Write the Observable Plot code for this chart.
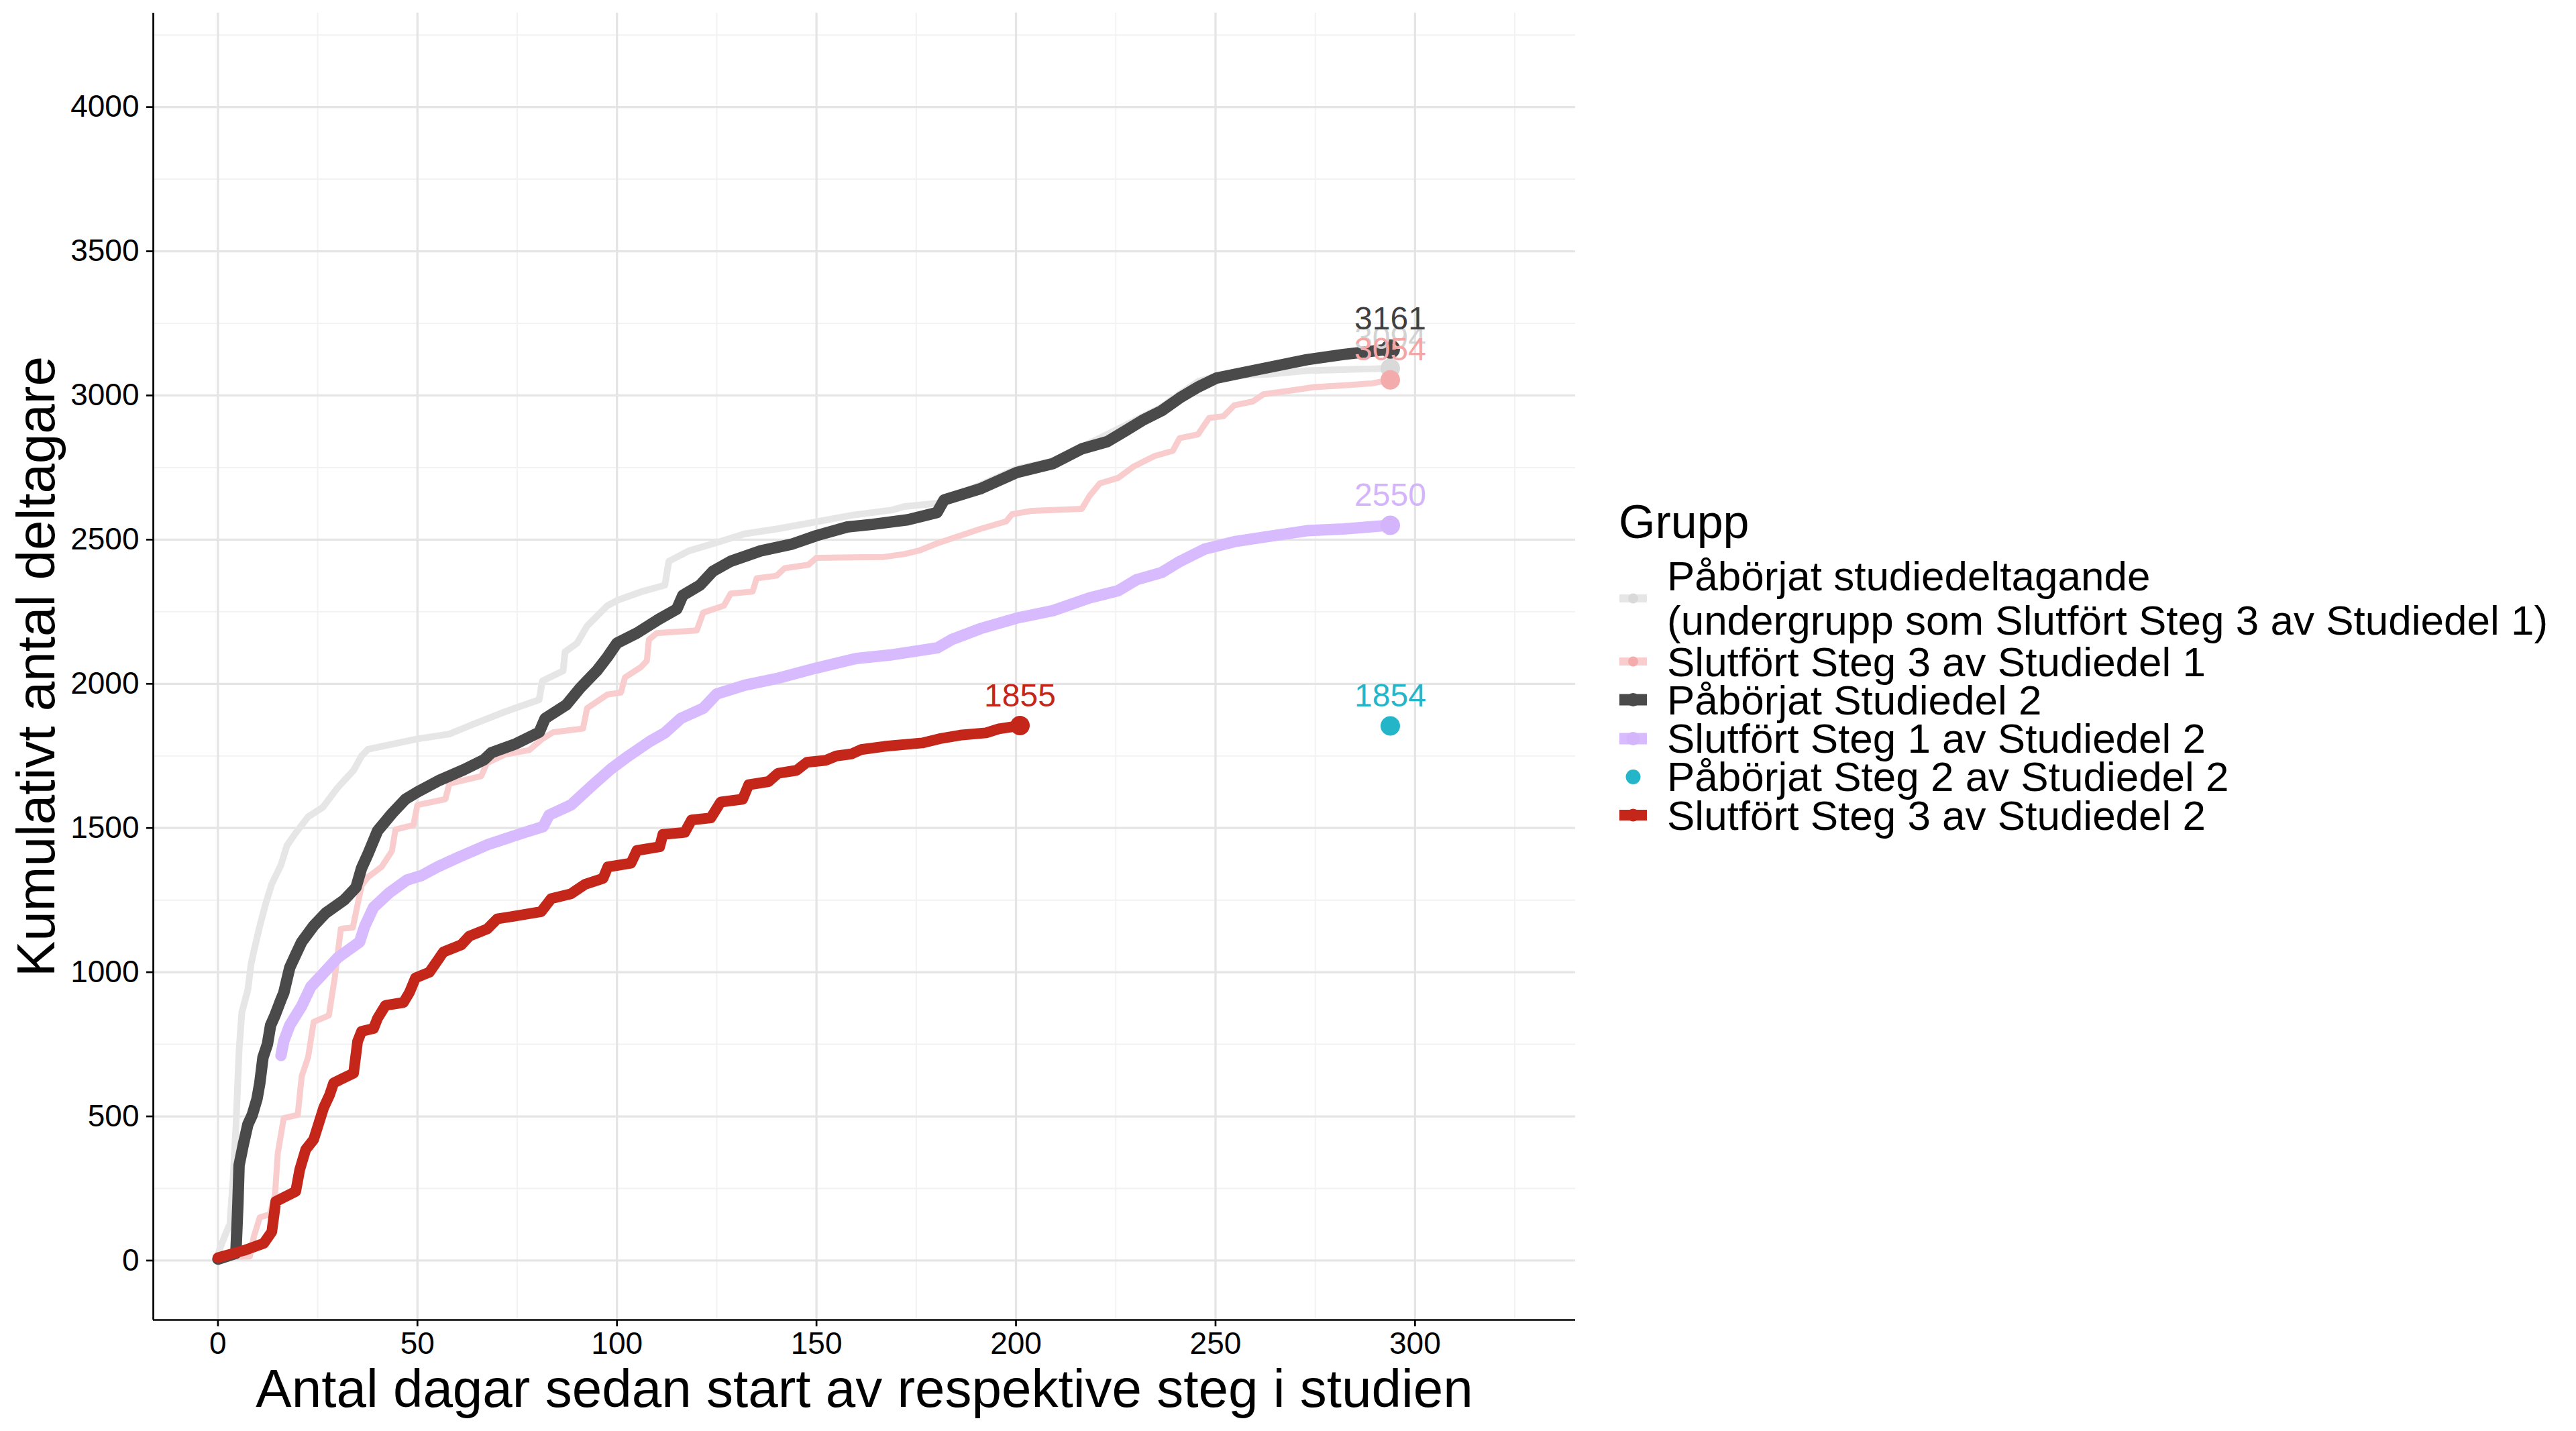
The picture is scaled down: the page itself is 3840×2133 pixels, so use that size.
<!DOCTYPE html>
<html>
<head>
<meta charset="utf-8">
<script src="https://cdn.jsdelivr.net/npm/d3@7"></script>
<script src="https://cdn.jsdelivr.net/npm/@observablehq/plot@0.6"></script>
<style>
html, body { margin: 0; padding: 0; background: #fff; }
#wrap { position: relative; width: 3840px; height: 2133px; overflow: hidden; background: #fff;
  font-family: "Liberation Sans", Arial, Helvetica, sans-serif; color: #000; }
#chart { position: absolute; left: 0; top: 0; }
#legendTitle { position: absolute; left: 2413px; top: 742.7px; font-size: 70px; line-height: 70px; white-space: nowrap; }
#legendRows { position: absolute; left: 2413px; top: 825.5px; }
.row { display: flex; align-items: center; height: 57.3px; }
.row.two { height: 132px; }
.row svg { margin-left: 1px; flex: none; }
.row .lab { margin-left: 30px; font-size: 62px; line-height: 57.3px; white-space: nowrap; }
.row.two .lab { line-height: 66px; }
</style>
</head>
<body>
<div id="wrap">
  <div id="chart"></div>
  <div id="legendTitle">Grupp</div>
  <div id="legendRows"></div>
</div>
<script>
// ---- Data ----
const groups = [
  "Påbörjat studiedeltagande\n(undergrupp som Slutfört Steg 3 av Studiedel 1)",
  "Slutfört Steg 3 av Studiedel 1",
  "Påbörjat Studiedel 2",
  "Slutfört Steg 1 av Studiedel 2",
  "Påbörjat Steg 2 av Studiedel 2",
  "Slutfört Steg 3 av Studiedel 2"
];

// [day, cumulative count]
const paborjatStudiedeltagande = [
  [0,22],[1.5,78],[3,128],[3.8,283],[4.5,461],[5.3,728],[6,861],[7.5,939],[8.3,1028],[9,1072],
  [10.5,1161],[12,1239],[13.5,1306],[15.8,1372],[17.3,1439],[19.5,1483],[22.6,1539],[26.3,1572],
  [30,1640],[34,1700],[36,1750],[37.6,1773],[50,1809],[58,1826],[63.3,1856],[71.9,1903],[80.5,1945],
  [81.3,2010],[86.5,2045],[87,2111],[90,2141],[92.5,2200],[97.6,2271],[100,2289],[106,2319],[112,2342],
  [113,2425],[118,2461],[125,2490],[132,2520],[140.5,2538],[150,2562],[159,2585],[169,2603],[172,2615],
  [180.2,2626],[191,2689],[200,2745],[210,2775],[217,2825],[227.5,2897],[236.5,2960],[241,3005],
  [245.6,3048],[250.2,3067],[263,3073],[272.9,3086],[293.8,3094]
];

const slutfortSteg3Del1 = [
  [0,10],[8,15],[9,83],[10.5,150],[13,160],[14.3,228],[15,372],[16.5,494],[20,505],[21,639],[22.6,705],
  [24,828],[27.8,850],[29.3,983],[30.8,1150],[33.8,1155],[36,1300],[37.6,1330],[41,1365],[43.6,1420],
  [44.5,1495],[49,1510],[50,1580],[57,1600],[58,1654],[66,1680],[67.4,1725],[71.9,1755],[78,1770],
  [81.3,1809],[84,1832],[91.5,1845],[92.5,1915],[97.6,1963],[101,1970],[102,2022],[106,2058],[107.5,2080],
  [108,2153],[110,2176],[120,2185],[121.6,2247],[126.8,2271],[128.5,2313],[134,2320],[135,2366],[140,2375],
  [142,2401],[148,2413],[150,2437],[167,2440],[172,2450],[175.7,2462],[180.2,2487],[191,2537],[197.5,2563],
  [199,2588],[204,2600],[216.5,2607],[218.4,2651],[221,2695],[225.6,2714],[229.3,2752],[234.7,2790],
  [239.3,2808],[241,2852],[245.6,2865],[248.4,2922],[252,2928],[254.7,2966],[259.3,2979],[262,3004],
  [268.4,3016],[274.7,3029],[282,3035],[289.3,3042],[293.8,3054]
];

const paborjatStudiedel2 = [
  [0,5],[4.5,25],[5,194],[5.3,330],[6.4,405],[7.5,472],[8.6,505],[9.8,561],[10.5,616],[11.3,705],
  [12.4,750],[13.2,816],[14.3,850],[15.8,905],[16.5,928],[18,1016],[19.5,1061],[21,1105],[24,1161],
  [27,1205],[31.6,1250],[34.6,1294],[36,1361],[37.6,1410],[40,1490],[43.6,1550],[47,1600],[50,1625],
  [55.6,1666],[61.6,1702],[66.7,1737],[68.5,1761],[74.5,1791],[80.5,1832],[82,1880],[87.3,1927],
  [90.8,1986],[95,2046],[97.6,2093],[100,2141],[105,2176],[110.5,2224],[115,2259],[116.5,2307],
  [120.8,2342],[124,2390],[128.5,2425],[136,2461],[144,2485],[150,2514],[157.7,2544],[164,2553],
  [172.9,2569],[180.2,2594],[182,2638],[191,2676],[200.2,2733],[209.3,2764],[216.5,2815],[222.9,2840],
  [227.5,2878],[232,2916],[236.5,2947],[241,2991],[245.6,3029],[250.2,3060],[259.3,3086],[272.9,3124],
  [282,3142],[293.8,3161]
];

const slutfortSteg1Del2 = [
  [15.8,711],[16.5,761],[18,816],[21,883],[23.3,950],[26.3,994],[30,1050],[35.5,1105],[36.8,1160],
  [39,1225],[42.9,1275],[47.4,1320],[51,1335],[55,1365],[60.5,1400],[67.7,1443],[76.5,1483],[81.5,1505],
  [83,1545],[88.5,1580],[94,1650],[98.5,1705],[102.8,1749],[108.2,1800],[112,1830],[116,1880],[121.6,1915],
  [125,1965],[132,1995],[140.5,2020],[150,2055],[160,2088],[168.5,2100],[180.3,2125],[183.8,2153],
  [191,2191],[200.2,2228],[209.3,2254],[218.4,2298],[225.6,2323],[230.2,2361],[236.5,2386],[241,2424],
  [247.4,2468],[254.7,2493],[263.8,2512],[272.9,2531],[282,2537],[293.8,2550]
];

const paborjatSteg2Del2 = [[293.8,1854]];

const slutfortSteg3Del2 = [
  [0,10],[6.5,35],[11.5,60],[13.5,100],[14.5,205],[19.5,240],[20.5,315],[22,385],[24,420],[26.5,530],
  [28,575],[29,616],[34,650],[35,760],[36,795],[39,805],[40,840],[42,885],[46.5,895],[48,930],[49.5,980],
  [53,1000],[55,1040],[56.5,1070],[61,1095],[63,1125],[67.5,1150],[70,1185],[75.5,1197],[81,1210],
  [83.5,1255],[88.5,1272],[92,1305],[96.5,1325],[97.7,1365],[103.5,1378],[105,1422],[110.7,1435],
  [111.5,1478],[117,1485],[118.7,1528],[123.5,1535],[126,1590],[131.5,1600],[133,1650],[138,1661],
  [140.4,1690],[145,1700],[147.6,1728],[152.4,1735],[155,1750],[158.8,1757],[161.2,1772],[167,1783],
  [176.5,1795],[181.3,1811],[186,1822],[192.5,1830],[195.7,1844],[201,1855]
];

const xMajor = [0,50,100,150,200,250,300];
const xMinor = [25,75,125,175,225,275,325];
const yMajor = [0,500,1000,1500,2000,2500,3000,3500,4000];
const yMinor = [250,750,1250,1750,2250,2750,3250,3750,4250];

const xTitle = "Antal dagar sedan start av respektive steg i studien";
const yTitle = "Kumulativt antal deltagare";

// ---- Styling per series ----
const series = [
  {data: paborjatStudiedeltagande, line: "#e6e6e6", point: "#d9d9d9", label: "#d3d3d3", w: 10},
  {data: slutfortSteg3Del1,        line: "#f9cdcd", point: "#f4abab", label: "#f4a6a6", w: 9},
  {data: paborjatStudiedel2,       line: "#4a4a4a", point: "#4a4a4a", label: "#3f3f3f", w: 17},
  {data: slutfortSteg1Del2,        line: "#d8baff", point: "#d4b4fb", label: "#d4b4fb", w: 17},
  {data: paborjatSteg2Del2,        line: null,      point: "#25b5c8", label: "#25b5c8", w: 0},
  {data: slutfortSteg3Del2,        line: "#c5261a", point: "#c5261a", label: "#c5261a", w: 16}
];

const xDomain = [-16.2, 340.2];
const yDomain = [-206, 4326];

const lineMarks = series.filter(s => s.line).map(s =>
  Plot.line(s.data, {x: d => d[0], y: d => d[1], stroke: s.line, strokeWidth: s.w, curve: "linear",
    strokeLinejoin: "round", strokeLinecap: "round"}));
const dotMarks = series.map(s =>
  Plot.dot([s.data[s.data.length - 1]], {x: d => d[0], y: d => d[1], r: 14.5, fill: s.point, stroke: "none"}));
const textMarks = series.map(s =>
  Plot.text([s.data[s.data.length - 1]], {x: d => d[0], y: d => d[1], text: d => String(d[1]),
    fill: s.label, fontSize: 48, lineAnchor: "bottom", dy: -29, textAnchor: "middle"}));

const chart = Plot.plot({
  width: 3840,
  height: 2133,
  marginLeft: 228,
  marginRight: 1492,
  marginTop: 19,
  marginBottom: 166,
  x: {domain: xDomain},
  y: {domain: yDomain},
  style: {fontFamily: '"Liberation Sans", Arial, Helvetica, sans-serif', background: "white", color: "black", overflow: "visible"},
  marks: [
    Plot.gridX(xMinor, {stroke: "#f2f2f2", strokeOpacity: 1, strokeWidth: 2}),
    Plot.gridY(yMinor, {stroke: "#f2f2f2", strokeOpacity: 1, strokeWidth: 2}),
    Plot.gridX(xMajor, {stroke: "#e5e5e5", strokeOpacity: 1, strokeWidth: 3.3}),
    Plot.gridY(yMajor, {stroke: "#e5e5e5", strokeOpacity: 1, strokeWidth: 3.3}),
    ...lineMarks,
    ...dotMarks,
    ...textMarks,
    Plot.ruleX([xDomain[0]], {stroke: "black", strokeWidth: 2.7}),
    Plot.ruleY([yDomain[0]], {stroke: "black", strokeWidth: 2.7}),
    Plot.axisX({ticks: xMajor, tickSize: 10, tickPadding: 8, tickFormat: d => String(d), fontSize: 46,
      label: null, stroke: "black", strokeWidth: 2.7, fill: "black"}),
    Plot.axisY({ticks: yMajor, tickSize: 10, tickPadding: 11, tickFormat: d => String(d), fontSize: 46,
      label: null, stroke: "black", strokeWidth: 2.7, fill: "black"}),
    Plot.text([xTitle], {frameAnchor: "bottom", textAnchor: "middle", dy: 104, fontSize: 80, lineAnchor: "middle", fill: "black"}),
    Plot.text([yTitle], {frameAnchor: "left", textAnchor: "middle", rotate: -90, dx: -173, fontSize: 80, lineAnchor: "middle", fill: "black"})
  ]
});
document.getElementById("chart").appendChild(chart);

// ---- Legend (HTML) ----
const rows = document.getElementById("legendRows");
series.forEach((s, i) => {
  const row = document.createElement("div");
  const lines = groups[i].split("\n");
  row.className = "row" + (lines.length > 1 ? " two" : "");
  const svgNS = "http://www.w3.org/2000/svg";
  const svg = document.createElementNS(svgNS, "svg");
  svg.setAttribute("width", "41");
  svg.setAttribute("height", "30");
  if (s.line) {
    const l = document.createElementNS(svgNS, "line");
    l.setAttribute("x1", "0"); l.setAttribute("x2", "41");
    l.setAttribute("y1", "15"); l.setAttribute("y2", "15");
    l.setAttribute("stroke", s.line);
    l.setAttribute("stroke-width", String(Math.max(s.w, 12)));
    svg.appendChild(l);
  }
  const c = document.createElementNS(svgNS, "circle");
  c.setAttribute("cx", "20.5"); c.setAttribute("cy", "15");
  c.setAttribute("r", s.line ? String(Math.max(s.w, 12) / 2 + 1.5) : "11");
  c.setAttribute("fill", s.point);
  svg.appendChild(c);
  row.appendChild(svg);
  const lab = document.createElement("div");
  lab.className = "lab";
  lines.forEach((t, j) => {
    if (j > 0) lab.appendChild(document.createElement("br"));
    lab.appendChild(document.createTextNode(t));
  });
  row.appendChild(lab);
  rows.appendChild(row);
});
</script>
</body>
</html>
